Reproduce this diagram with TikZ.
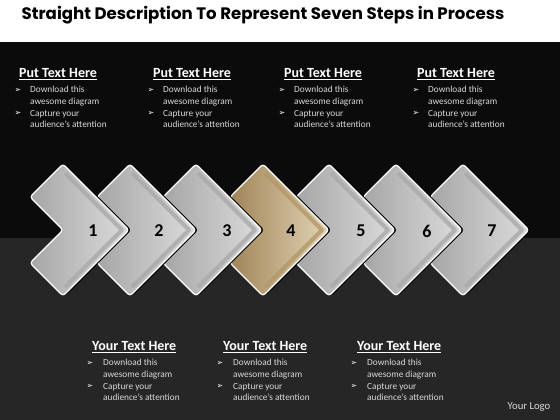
\documentclass[tikz,border=0pt]{standalone}
\usepackage{fontspec}
\setmainfont{Carlito}
\newfontfamily\titlefont{Poppins}
\newfontfamily\symfont{DejaVu Sans}
\definecolor{topblack}{HTML}{0B0B0B}
\definecolor{floorgray}{HTML}{262626}
\definecolor{bodygray}{HTML}{D9D9D9}
\definecolor{silverdark}{HTML}{A6A6A6}
\definecolor{silverlight}{HTML}{DCDCDC}
\definecolor{silverbevel}{HTML}{A9A9A9}
\definecolor{golddark}{HTML}{A08458}
\definecolor{goldlight}{HTML}{E3D5B5}
\definecolor{goldbevel}{HTML}{B3976A}

\tikzset{
  chevron/.style={rounded corners=3pt, draw=white, line width=1.2pt,
    left color=silverdark, right color=silverlight,
    preaction={fill=black, draw=black, transform canvas={xshift=2pt}}},
  goldchevron/.style={chevron, left color=golddark, right color=goldlight},
  bevel/.style={line width=4pt, draw=silverbevel, line join=round, opacity=0.8},
  goldbevel/.style={bevel, draw=goldbevel},
  num/.style={inner sep=0pt, text=black, font=\bfseries\fontsize{18}{18}\selectfont},
  head/.style={anchor=west, inner sep=0pt, text=white, font=\bfseries\fontsize{14}{16}\selectfont},
  bul/.style={inner sep=0pt, text=white, font=\symfont\fontsize{8}{8}\selectfont},
  txt/.style={anchor=west, inner sep=0pt, align=left, text=bodygray, font=\fontsize{9.3}{11.5}\selectfont}
}

\begin{document}
\begin{tikzpicture}[x=1pt,y=-1pt]
\useasboundingbox (0,0) rectangle (560,420);

% backdrop
\fill[white] (0,0) rectangle (560,42);
\fill[topblack] (0,42) rectangle (560,238);
\fill[floorgray] (0,238) rectangle (560,420);

\node[inner sep=0pt, font=\titlefont\bfseries\fontsize{16.6}{18}\selectfont] (title) at (263,15) {Straight Description To Represent Seven Steps in Process};

% the seven chevrons
\filldraw[chevron] (463,164) -- ++(66,66) -- ++(-66,66) -- ++(-33,-33) -- ++(33,-33) -- ++(-33,-33) -- cycle;
\draw[bevel] (465,173) -- ++(57,57) -- ++(-57,57);
\filldraw[chevron] (396,164) -- ++(66,66) -- ++(-66,66) -- ++(-33,-33) -- ++(33,-33) -- ++(-33,-33) -- cycle;
\draw[bevel] (398,173) -- ++(57,57) -- ++(-57,57);
\filldraw[chevron] (329,164) -- ++(66,66) -- ++(-66,66) -- ++(-33,-33) -- ++(33,-33) -- ++(-33,-33) -- cycle;
\draw[bevel] (331,173) -- ++(57,57) -- ++(-57,57);
\filldraw[goldchevron] (263,164) -- ++(66,66) -- ++(-66,66) -- ++(-33,-33) -- ++(33,-33) -- ++(-33,-33) -- cycle;
\draw[goldbevel] (265,173) -- ++(57,57) -- ++(-57,57);
\filldraw[chevron] (196,164) -- ++(66,66) -- ++(-66,66) -- ++(-33,-33) -- ++(33,-33) -- ++(-33,-33) -- cycle;
\draw[bevel] (198,173) -- ++(57,57) -- ++(-57,57);
\filldraw[chevron] (130,164) -- ++(66,66) -- ++(-66,66) -- ++(-33,-33) -- ++(33,-33) -- ++(-33,-33) -- cycle;
\draw[bevel] (132,173) -- ++(57,57) -- ++(-57,57);
\filldraw[chevron] (63,164) -- ++(66,66) -- ++(-66,66) -- ++(-33,-33) -- ++(33,-33) -- ++(-33,-33) -- cycle;
\draw[bevel] (65,173) -- ++(57,57) -- ++(-57,57);

\node[num] (n1) at (93,231) {1};
\node[num] (n2) at (159,231) {2};
\node[num] (n3) at (227,231) {3};
\node[num] (n4) at (291,231) {4};
\node[num] (n5) at (361,231) {5};
\node[num] (n6) at (427,231) {6};
\node[num] (n7) at (492,231) {7};

% upper text blocks
\node[head] (ph1) at (19,74) {\underline{Put Text Here}};
\node[bul] (pb1a) at (18,90) {➢};
\node[txt] (pt1a) at (30,96) {Download this\\awesome diagram};
\node[bul] (pb1b) at (18,113) {➢};
\node[txt] (pt1b) at (30,119) {Capture your\\audience’s attention};

\node[head] (ph2) at (153,74) {\underline{Put Text Here}};
\node[bul] (pb2a) at (151,90) {➢};
\node[txt] (pt2a) at (163,96) {Download this\\awesome diagram};
\node[bul] (pb2b) at (151,113) {➢};
\node[txt] (pt2b) at (163,119) {Capture your\\audience’s attention};

\node[head] (ph3) at (284,74) {\underline{Put Text Here}};
\node[bul] (pb3a) at (282,90) {➢};
\node[txt] (pt3a) at (294,96) {Download this\\awesome diagram};
\node[bul] (pb3b) at (282,113) {➢};
\node[txt] (pt3b) at (294,119) {Capture your\\audience’s attention};

\node[head] (ph4) at (417,74) {\underline{Put Text Here}};
\node[bul] (pb4a) at (416,90) {➢};
\node[txt] (pt4a) at (428,96) {Download this\\awesome diagram};
\node[bul] (pb4b) at (416,113) {➢};
\node[txt] (pt4b) at (428,119) {Capture your\\audience’s attention};

% lower text blocks
\node[head] (yh1) at (92,347) {\underline{Your Text Here}};
\node[bul] (yb1a) at (90,363) {➢};
\node[txt] (yt1a) at (103,369) {Download this\\awesome diagram};
\node[bul] (yb1b) at (90,386) {➢};
\node[txt] (yt1b) at (103,392) {Capture your\\audience’s attention};

\node[head] (yh2) at (223,347) {\underline{Your Text Here}};
\node[bul] (yb2a) at (220,363) {➢};
\node[txt] (yt2a) at (233,369) {Download this\\awesome diagram};
\node[bul] (yb2b) at (220,386) {➢};
\node[txt] (yt2b) at (233,392) {Capture your\\audience’s attention};

\node[head] (yh3) at (357,347) {\underline{Your Text Here}};
\node[bul] (yb3a) at (354,363) {➢};
\node[txt] (yt3a) at (367,369) {Download this\\awesome diagram};
\node[bul] (yb3b) at (354,386) {➢};
\node[txt] (yt3b) at (367,392) {Capture your\\audience’s attention};

\node[inner sep=0pt, text=bodygray, font=\fontsize{10.7}{12}\selectfont] (logo) at (529,407) {Your Logo};

\end{tikzpicture}
\end{document}
